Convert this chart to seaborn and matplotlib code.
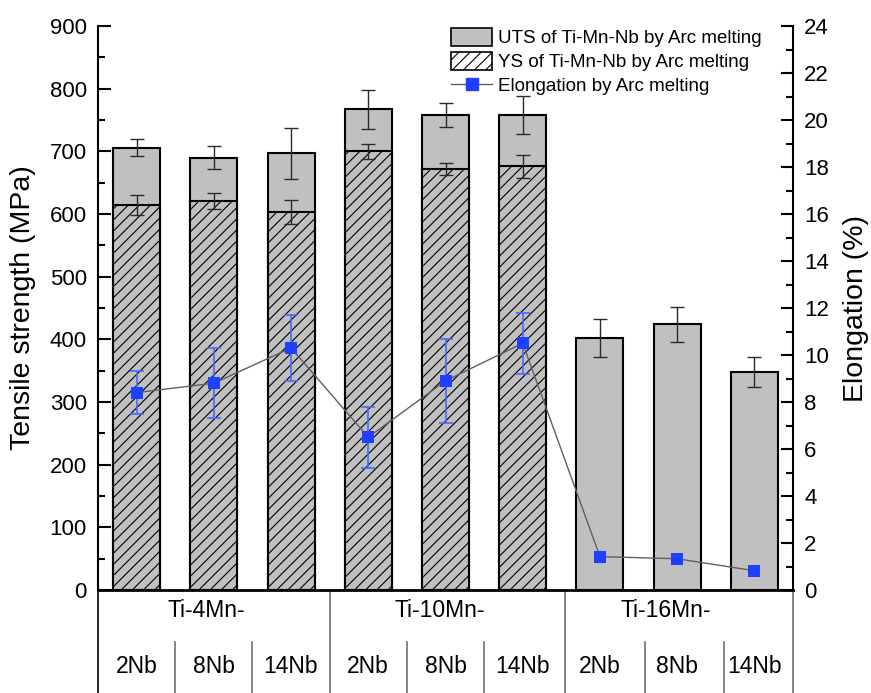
import numpy as np
import matplotlib
matplotlib.use('Agg')
import matplotlib.pyplot as plt
import seaborn as sns
import pandas as pd
from matplotlib.patches import Patch
from matplotlib.lines import Line2D
from matplotlib.ticker import MultipleLocator

plt.rcParams['font.family'] = ['Liberation Sans', 'DejaVu Sans']
plt.rcParams['hatch.linewidth'] = 0.8

# data
groups = ['Ti-4Mn-', 'Ti-10Mn-', 'Ti-16Mn-']
nb = ['2Nb', '8Nb', '14Nb']
samples = [g + n for g in groups for n in nb]
uts = [706, 690, 697, 767, 758, 758, 402, 424, 348]
uts_err = [13, 18, 41, 31, 19, 30, 30, 28, 24]
ys = [615, 621, 603, 700, 672, 676, np.nan, np.nan, np.nan]
ys_err = [16, 13, 19, 12.5, 9, 18, 0, 0, 0]
elong = [8.4, 8.8, 10.3, 6.5, 8.9, 10.5, 1.42, 1.33, 0.82]
elong_err = [0.9, 1.5, 1.4, 1.3, 1.8, 1.3, 0, 0, 0]

df = pd.DataFrame({'sample': samples, 'uts': uts, 'ys': ys})
xpos = np.arange(len(samples))

grey = '#c0c0c0'
blue = '#2040ff'

fig = plt.figure(figsize=(8.71, 6.93), dpi=100)
ax = fig.add_axes([98 / 871, 103 / 693, 695 / 871, 564 / 693])

sns.barplot(data=df, x='sample', y='uts', order=samples, color=grey, saturation=1,
            edgecolor='black', linewidth=1.5, width=0.61, errorbar=None, ax=ax)
sns.barplot(data=df.dropna(), x='sample', y='ys', order=samples, color=grey, saturation=1,
            edgecolor='black', linewidth=1.5, width=0.61, errorbar=None, hatch='///', ax=ax)
ax.errorbar(xpos, uts, yerr=uts_err, fmt='none', ecolor='#2a2a2a', elinewidth=1,
            capsize=5, capthick=1, zorder=4)
ax.errorbar(xpos[:6], ys[:6], yerr=ys_err[:6], fmt='none', ecolor='#2a2a2a', elinewidth=1,
            capsize=5, capthick=1, zorder=4)

ax.set_xlim(-0.5, 8.5)
ax.set_ylim(0, 900)
ax.yaxis.set_major_locator(MultipleLocator(100))
ax.yaxis.set_minor_locator(MultipleLocator(50))
ax.tick_params(axis='y', which='major', direction='in', length=9, width=1.5, labelsize=16, pad=8)
ax.tick_params(axis='y', which='minor', direction='in', length=5, width=1.5)
ax.tick_params(axis='x', bottom=False, labelbottom=False)
ax.set_xlabel('')
ax.set_ylabel('Tensile strength (MPa)', fontsize=20.5, labelpad=10)
ax.spines['top'].set_visible(False)
ax.spines['right'].set_visible(False)
ax.spines['left'].set_linewidth(1.5)
ax.spines['bottom'].set_linewidth(2)

ax2 = ax.twinx()
sns.lineplot(x=xpos, y=elong, color='#606060', linewidth=1, ax=ax2, zorder=2)
ax2.errorbar(xpos[:6], elong[:6], yerr=elong_err[:6], fmt='none', ecolor='#4a68ff',
             elinewidth=1.2, capsize=5, capthick=1.2, zorder=3)
sns.scatterplot(x=xpos, y=elong, marker='s', s=80, color=blue, edgecolor=blue,
                linewidth=0, ax=ax2, zorder=4)
ax2.set_ylim(0, 24)
ax2.yaxis.set_major_locator(MultipleLocator(2))
ax2.yaxis.set_minor_locator(MultipleLocator(1))
ax2.tick_params(axis='y', which='major', direction='in', length=9, width=1.5, labelsize=16, pad=8)
ax2.tick_params(axis='y', which='minor', direction='in', length=5, width=1.5)
ax2.set_ylabel('Elongation (%)', fontsize=20.5, labelpad=10)
for s in ['top', 'left', 'bottom']:
    ax2.spines[s].set_visible(False)
ax2.spines['right'].set_linewidth(1.5)

# category table under the axis
tr = ax.get_xaxis_transform()
y_bot = -103 / 564
for xs, c in [(-0.5, 'black'), (2.5, '#707070'), (5.55, '#707070'), (8.5, '#707070')]:
    ax.plot([xs, xs], [0, y_bot], color=c, lw=1.2, transform=tr, clip_on=False)
for xs in [0.5, 1.5, 3.5, 4.5, 6.58, 7.6]:
    ax.plot([xs, xs], [-0.092, y_bot], color='#707070', lw=1.2, transform=tr, clip_on=False)
for g, xc in zip(groups, [0.9, 3.93, 6.85]):
    ax.text(xc, -0.037, g, transform=tr, ha='center', va='center', fontsize=16.5)
for i, s in enumerate(samples):
    ax.text(i, -0.136, nb[i % 3], transform=tr, ha='center', va='center', fontsize=16.5)

handles = [Patch(facecolor=grey, edgecolor='black', linewidth=1.2),
           Patch(facecolor='white', edgecolor='black', linewidth=1.2, hatch='///'),
           Line2D([0], [0], color='#606060', lw=1, marker='s', markersize=9,
                  markerfacecolor=blue, markeredgecolor=blue)]
labels = ['UTS of Ti-Mn-Nb by Arc melting', 'YS of Ti-Mn-Nb by Arc melting',
          'Elongation by Arc melting']
ax2.legend(handles, labels, loc='upper left', bbox_to_anchor=(0.508, 0.997), frameon=False,
           fontsize=13.5, borderpad=0, borderaxespad=0, handlelength=2.2, handleheight=1.1,
           handletextpad=0.3, labelspacing=0.25)

fig.savefig('out.png', dpi=100)
